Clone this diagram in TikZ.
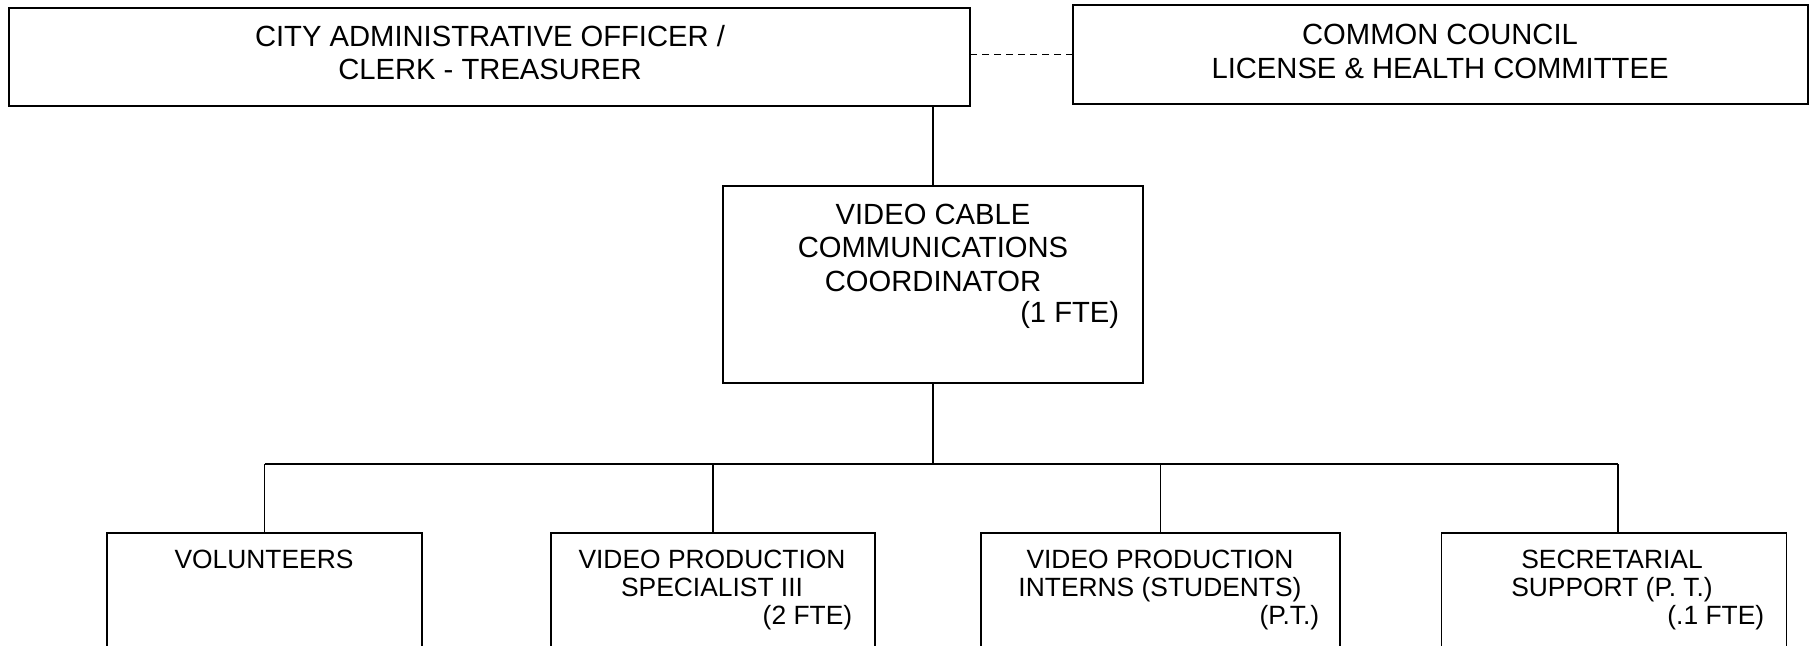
\documentclass[tikz,border=0pt]{standalone}
\usepackage{fontspec}
\setmainfont{Liberation Sans}

\begin{document}
\begin{tikzpicture}[x=1pt,y=-1pt,line width=1.6pt,
  orgbox/.style={draw,inner sep=0pt,outer sep=0pt},
  bigtxt/.style={anchor=north,inner sep=0pt,align=center,font=\fontsize{29.2}{33}\selectfont},
  smalltxt/.style={anchor=north,inner sep=0pt,align=center,font=\fontsize{26.4}{28}\selectfont},
  fte/.style={anchor=base east,inner sep=0pt}]
\useasboundingbox (0,0) rectangle (1814,645);
\clip (0,0) rectangle (1814,645);

\node[orgbox,minimum width=961pt,minimum height=98pt] (cao) at (489.5,57) {};
\node[orgbox,minimum width=735pt,minimum height=99pt] (council) at (1440.5,54.5) {};
\node[orgbox,minimum width=420pt,minimum height=197pt] (coord) at (933,284.5) {};
\node[orgbox,anchor=north,minimum width=314.5pt,minimum height=200pt] (vol) at (264.5,533) {};
\node[orgbox,anchor=north,minimum width=324pt,minimum height=200pt] (vps) at (713,533) {};
\node[orgbox,anchor=north,minimum width=359pt,minimum height=200pt] (vpi) at (1160.5,533) {};
\node[orgbox,anchor=north,minimum width=345pt,minimum height=200pt] (sec) at (1614,533) {};

\node[bigtxt] (caotxt) at (490,25) {CITY ADMINISTRATIVE OFFICER /\\CLERK - TREASURER};
\node[bigtxt,font=\fontsize{29.2}{34}\selectfont] (counciltxt) at (1440,23) {COMMON COUNCIL\\LICENSE \& HEALTH COMMITTEE};
\node[bigtxt,font=\fontsize{29.2}{33.7}\selectfont] (coordtxt) at (933,203) {VIDEO CABLE\\COMMUNICATIONS\\COORDINATOR};
\node[fte,font=\fontsize{29.2}{33}\selectfont] (coordfte) at (1120,322) {(1 FTE)};

\node[smalltxt] (voltxt) at (264,549) {VOLUNTEERS};
\node[smalltxt] (vpstxt) at (712,549) {VIDEO PRODUCTION\\SPECIALIST III};
\node[fte,font=\fontsize{26.4}{28}\selectfont] (vpsfte) at (853,624) {(2 FTE)};
\node[smalltxt] (vpitxt) at (1160,549) {VIDEO PRODUCTION\\INTERNS (STUDENTS)};
\node[fte,font=\fontsize{26.4}{28}\selectfont] (vpifte) at (1320,624) {(P.T.)};
\node[smalltxt] (sectxt) at (1612,549) {SECRETARIAL\\SUPPORT (P. T.)};
\node[fte,font=\fontsize{26.4}{28}\selectfont] (secfte) at (1765,624) {(.1 FTE)};

\coordinate (bus) at (933,464);
\coordinate (secdrop) at ([xshift=4pt]sec.north);
\draw[dash pattern=on 7pt off 5pt] (council.west) -- (council.west -| cao.east);
\draw (coord.north) -- (coord.north |- cao.south);
\draw (coord.south) -- (bus);
\draw (vol.north |- bus) -- (secdrop |- bus);
\foreach \n in {vol,vps,vpi}
  \draw (\n.north) -- (\n.north |- bus);
\draw (secdrop) -- (secdrop |- bus);

\end{tikzpicture}
\end{document}
